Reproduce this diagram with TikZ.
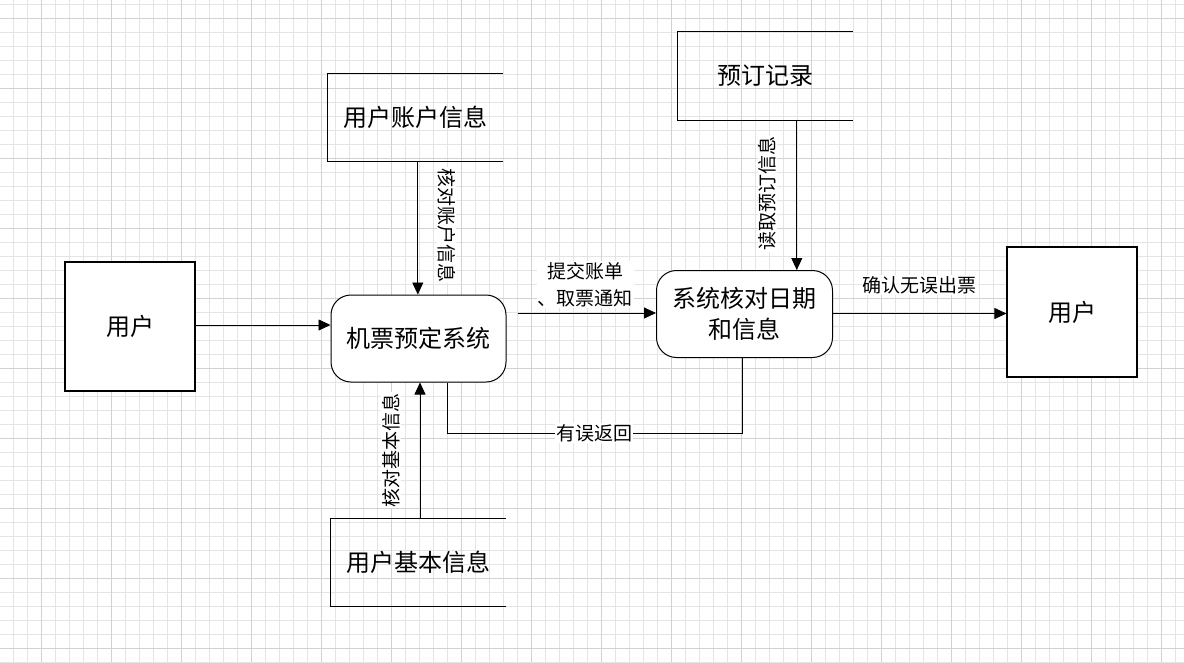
\documentclass[tikz,border=0pt]{standalone}
\usepackage{fontspec}
\newfontfamily\cjk{Noto Sans CJK SC}
\usetikzlibrary{arrows.meta,calc}
\definecolor{gridminor}{RGB}{228,228,228}
\definecolor{gridmajor}{RGB}{210,210,210}
\tikzset{
  boxtext/.style={font=\cjk\fontsize{24}{31}\selectfont, align=center},
  entity/.style={draw, line width=1.1pt, fill=white, rectangle, boxtext, inner sep=0pt},
  proc/.style={draw, line width=1pt, fill=white, rectangle, rounded corners=20pt, boxtext, inner sep=0pt},
  store/.style={rectangle, boxtext, inner sep=0pt},
  storeedge/.style={line width=1.1pt},
  flow/.style={line width=0.8pt, -{Triangle[length=12pt,width=11pt]}},
  plain/.style={line width=0.8pt},
  lab/.style={font=\cjk\fontsize{19}{27}\selectfont, fill=white, inner sep=1pt, align=center}
}
\begin{document}
\begin{tikzpicture}[x=1pt,y=-1pt]
\useasboundingbox (0,0) rectangle (1184,662);
\fill[white] (0,0) rectangle (1184,662);
% grid
\foreach \i in {0,...,84} {
  \pgfmathsetmacro\xx{13.3+14*\i}
  \draw[gridminor, line width=0.8pt] (\xx,0) -- (\xx,662);
}
\foreach \i in {0,...,47} {
  \pgfmathsetmacro\yy{4+14*\i}
  \draw[gridminor, line width=0.8pt] (0,\yy) -- (1184,\yy);
}
\foreach \i in {0,...,16} {
  \pgfmathsetmacro\xx{41.3+70*\i}
  \draw[gridmajor, line width=0.8pt] (\xx,0) -- (\xx,662);
}
\foreach \i in {0,...,9} {
  \pgfmathsetmacro\yy{18+70*\i}
  \draw[gridmajor, line width=0.8pt] (0,\yy) -- (1184,\yy);
}

% nodes
\node[entity, minimum width=130pt, minimum height=129pt] (user1) at (130,326.5) {用户};
\node[entity, minimum width=130pt, minimum height=130pt] (user2) at (1072,312) {用户};
\node[proc, minimum width=175pt, minimum height=87pt] (sys1) at (418.5,338.5) {机票预定系统};
\node[proc, minimum width=176pt, minimum height=87pt] (sys2) at (744.5,314) {系统核对日期\\和信息};
\node[store, minimum width=175pt, minimum height=88pt] (acct) at (415.5,117.5) {用户账户信息};
\node[store, minimum width=175pt, minimum height=87pt] (basic) at (418.5,562.5) {用户基本信息};
\node[store, minimum width=175pt, minimum height=88pt] (rec) at (765.5,76) {预订记录};

% open-ended store outlines
\draw[storeedge] (acct.north east) -- (acct.north west) -- (acct.south west) -- (acct.south east);
\draw[storeedge] (basic.north east) -- (basic.north west) -- (basic.south west) -- (basic.south east);
\draw[storeedge] (rec.north east) -- (rec.north west) -- (rec.south west) -- (rec.south east);

% helper coordinates
\coordinate (a1) at ($(acct.south west)+(90,0)$);
\coordinate (s1out) at ($(sys1.east)+(11,-25.5)$);
\coordinate (r1) at ($(rec.south west)+(119,0)$);
\coordinate (l1) at ($(sys2.south)+(-2.5,0)$);
\coordinate (l2) at ($(sys1.south)+(29,0)$);
\coordinate (b1) at ($(basic.north)+(1.5,0)$);

% flows
\draw[flow] (user1.east |- 0,325) -- (sys1.west |- 0,325);
\draw[flow] (a1) -- (a1 |- sys1.north);
\draw[flow] (b1) -- (b1 |- sys1.south);
\draw[flow] (s1out) -- (s1out -| sys2.west);
\draw[flow] (r1) -- (r1 |- sys2.north);
\draw[flow] (sys2.east |- 0,313.5) -- (user2.west |- 0,313.5);
\draw[plain] (l1) -- (l1 |- 0,433) coordinate (l3) -- (l2 |- 0,433) coordinate (l4) -- (l2);

% labels
\node[lab, rotate=-90] (labA) at (446.5,225) {核对账户信息};
\node[lab, rotate=90] (labB) at (391,450) {核对基本信息};
\node[lab, rotate=90] (labC) at (767.5,193.5) {读取预订信息};
\node[lab] (labD) at (585,284.5) {提交账单\\、取票通知};
\node[lab] (labE) at (919.5,285) {确认无误出票};
\node[lab] (labF) at (594,433) {有误返回};
\end{tikzpicture}
\end{document}
